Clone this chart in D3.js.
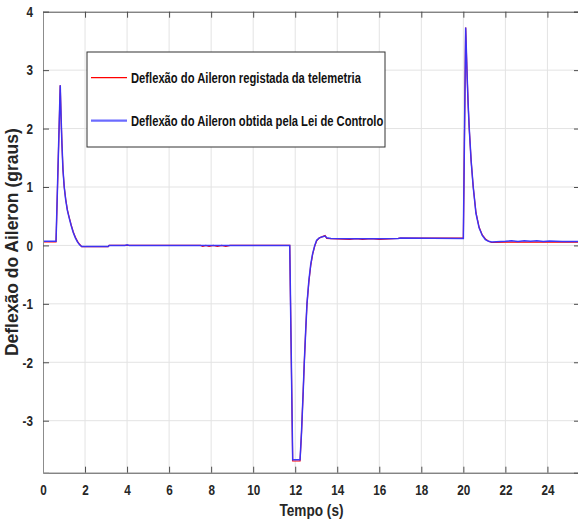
<!DOCTYPE html>
<meta charset="utf-8">

<!-- Load d3.js -->
<script src="https://d3js.org/d3.v7.min.js"></script>

<style>
  body { margin: 0; background: #fff; }
  .narrow { font-family: "Liberation Sans", Arial, sans-serif; font-weight: bold; }
</style>

<!-- Create a div where the graph will take place -->
<div id="my_dataviz"></div>

<script>

// data
var time = [0, 0.62, 0.82, 0.86, 0.90, 0.95, 1.01, 1.08, 1.16, 1.24, 1.34, 1.44, 1.54, 1.64, 1.74, 1.84,
            3.1, 3.15, 3.9, 4.0, 4.1, 7.5, 7.6, 7.75, 7.9, 8.1, 8.3, 8.5, 8.7, 8.9, 9.1, 11.74,
            11.88, 12.23, 12.30, 12.38, 12.43, 12.50, 12.56, 12.65, 12.74, 12.83, 12.93, 13.02, 13.15, 13.30,
            13.42, 13.50, 13.70, 14.6, 14.9, 15.2, 15.6, 16.0, 16.9, 17.0, 20.0,
            20.11, 20.18, 20.23, 20.28, 20.37, 20.47, 20.60, 20.75, 20.90, 21.05, 21.20, 21.35,
            22.0, 22.3, 22.6, 22.9, 23.2, 23.5, 23.8, 24.1, 24.4, 24.7, 25.0, 25.6];

// red: registada da telemetria
var telemetria = [0.06, 0.06, 2.74, 2.2, 1.75, 1.3, 1.0, 0.79, 0.61, 0.49, 0.35, 0.23, 0.14, 0.07, 0.02, -0.02,
            -0.02, 0.0, 0.0, 0.0, 0.0, 0.0, -0.015, 0.0, -0.015, 0.0, -0.015, 0.0, -0.015, 0.0, 0.0, 0.0,
            -3.69, -3.69, -3.2, -2.5, -2.02, -1.45, -1.0, -0.62, -0.34, -0.15, -0.01, 0.08, 0.13, 0.15,
            0.17, 0.12, 0.115, 0.105, 0.115, 0.105, 0.115, 0.105, 0.12, 0.125, 0.125,
            3.73, 2.9, 2.4, 2.0, 1.45, 1.0, 0.56, 0.31, 0.18, 0.11, 0.07, 0.05,
            0.055, 0.055, 0.055, 0.055, 0.055, 0.055, 0.055, 0.055, 0.055, 0.055, 0.055, 0.055];

// blue: obtida pela Lei de Controlo
var leiControlo = [0.07, 0.07, 2.74, 2.2, 1.75, 1.3, 1.0, 0.78, 0.6, 0.48, 0.34, 0.22, 0.13, 0.06, 0.01, -0.02,
            -0.02, 0.0, 0.0, 0.012, 0.0, 0.0, 0.0, 0.0, 0.0, 0.0, 0.0, 0.0, 0.0, 0.0, 0.0, 0.0,
            -3.67, -3.67, -3.2, -2.5, -2.02, -1.45, -1.0, -0.6, -0.32, -0.14, 0.0, 0.09, 0.13, 0.15,
            0.16, 0.13, 0.12, 0.115, 0.115, 0.115, 0.115, 0.115, 0.12, 0.125, 0.12,
            3.73, 2.9, 2.4, 2.0, 1.45, 1.0, 0.55, 0.3, 0.17, 0.1, 0.07, 0.06,
            0.07, 0.08, 0.065, 0.08, 0.07, 0.08, 0.065, 0.075, 0.07, 0.065, 0.065, 0.065];

var xTicks = [0, 2, 4, 6, 8, 10, 12, 14, 16, 18, 20, 22, 24];
var yTicks = [-3, -2, -1, 0, 1, 2, 3, 4];
var legendLabels = ["Deflexão do Aileron registada da telemetria",
                    "Deflexão do Aileron obtida pela Lei de Controlo"];

// set the dimensions and margins of the graph
var margin = {top: 11.7, right: -2, bottom: 52.3, left: 43},
    width = 578 - margin.left - margin.right,
    height = 525 - margin.top - margin.bottom;

var svg = d3.select("#my_dataviz")
  .append("svg")
    .attr("width", 578)
    .attr("height", 525)
  .append("g")
    .attr("transform", "translate(" + margin.left + "," + margin.top + ")");

var x = d3.scaleLinear().domain([0, 25.55]).range([0, width]);
var y = d3.scaleLinear().domain([-3.89, 4]).range([height, 0]);

// squeeze text horizontally so it looks like a narrow font
function narrow(sel, f) {
  sel.each(function(){
    var w = this.getComputedTextLength();
    d3.select(this).attr("textLength", w * f).attr("lengthAdjust", "spacingAndGlyphs");
  });
}

// grid
svg.selectAll("xgrid").data(xTicks.slice(1)).enter().append("line")
    .attr("x1", function(d){ return x(d) }).attr("x2", function(d){ return x(d) })
    .attr("y1", 0).attr("y2", height)
    .attr("stroke", "#e3e3e3");
svg.selectAll("ygrid").data(yTicks.slice(0, -1)).enter().append("line")
    .attr("y1", function(d){ return y(d) }).attr("y2", function(d){ return y(d) })
    .attr("x1", 0).attr("x2", width)
    .attr("stroke", "#e3e3e3");

// the two series
var line = d3.line()
    .x(function(d){ return x(d[0]) })
    .y(function(d){ return y(d[1]) });

svg.append("path")
    .datum(time.map(function(t, i){ return [t, telemetria[i]] }))
    .attr("d", line)
    .attr("fill", "none")
    .attr("stroke", "#ff0000")
    .attr("stroke-width", 1.2);

svg.append("path")
    .datum(time.map(function(t, i){ return [t, leiControlo[i]] }))
    .attr("d", line)
    .attr("fill", "none")
    .attr("stroke", "#3333ff")
    .attr("stroke-opacity", 0.95)
    .attr("stroke-width", 1.5);

// axes, ticks pointing inside
var fmt = function(d){ return String(d) };
var gx = svg.append("g")
    .attr("transform", "translate(0," + height + ")")
    .call(d3.axisBottom(x).tickValues(xTicks).tickSize(-6).tickPadding(12).tickFormat(fmt));
svg.append("g")
    .call(d3.axisTop(x).tickValues(xTicks).tickSize(-6).tickFormat(""));
var gy = svg.append("g")
    .call(d3.axisLeft(y).tickValues(yTicks).tickSize(-6).tickPadding(10).tickFormat(fmt));
svg.append("g")
    .attr("transform", "translate(" + width + ",0)")
    .call(d3.axisRight(y).tickValues(yTicks).tickSize(-6).tickFormat(""));

svg.selectAll(".domain").attr("stroke", "#4d4d4d");
svg.selectAll(".tick line").attr("stroke", "#4d4d4d");
gy.select(".domain").attr("stroke", "#8c8c8c");
svg.selectAll(".tick text")
    .attr("class", "narrow")
    .style("font-size", "15px")
    .attr("fill", "#262626")
    .call(narrow, 0.78);

// axis titles
svg.append("text")
    .attr("class", "narrow")
    .attr("x", width / 2)
    .attr("y", height + 43)
    .attr("text-anchor", "middle")
    .style("font-size", "17px")
    .attr("fill", "#262626")
    .text("Tempo (s)")
    .call(narrow, 0.8);

svg.append("text")
    .attr("transform", "translate(" + (18 - margin.left) + "," + (height / 2) + ")rotate(-90)")
    .attr("text-anchor", "middle")
    .style("font-family", "'Liberation Sans', Arial, sans-serif")
    .style("font-weight", "bold")
    .style("font-size", "17.5px")
    .attr("fill", "#262626")
    .text("Deflexão do Aileron (graus)");

// legend
var legend = svg.append("g")
    .attr("transform", "translate(" + (87 - margin.left) + "," + (52 - margin.top) + ")");
legend.append("rect")
    .attr("width", 298).attr("height", 95)
    .attr("fill", "#fff").attr("stroke", "#333");
var legendColors = ["#ff0000", "#6b6bff"];
var legendWidths = [1.2, 2.2];
var legendY = [25.7, 68.7];
legendLabels.forEach(function(lab, i){
  legend.append("line")
    .attr("x1", 4).attr("x2", 40)
    .attr("y1", legendY[i]).attr("y2", legendY[i])
    .attr("stroke", legendColors[i]).attr("stroke-width", legendWidths[i]);
  legend.append("text")
    .attr("class", "narrow")
    .attr("x", 44)
    .attr("y", legendY[i] + 5)
    .style("font-size", "14px")
    .attr("fill", "#111")
    .text(lab)
    .call(narrow, 0.8);
});

</script>
